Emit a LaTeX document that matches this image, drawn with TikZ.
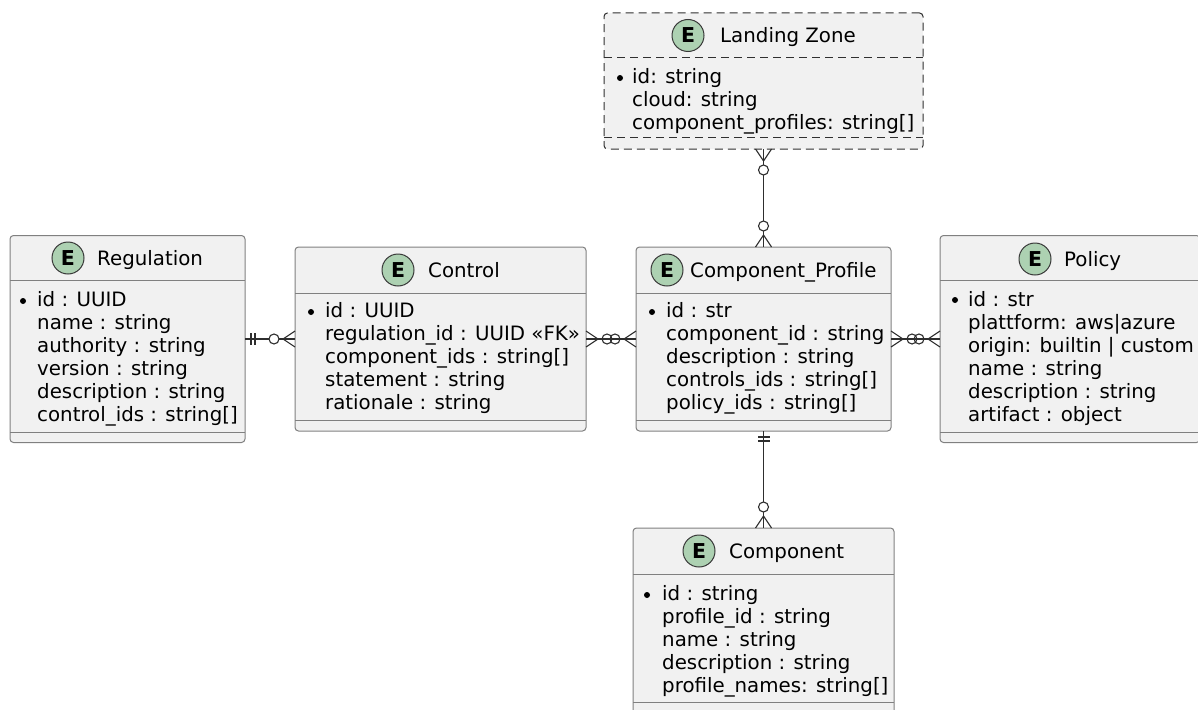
\documentclass[tikz,border=0pt]{standalone}
\usepackage{fontspec}
\setmainfont{DejaVu Sans}
\usetikzlibrary{calc}

\definecolor{boxfill}{HTML}{F1F1F1}
\definecolor{boxline}{HTML}{808080}
\definecolor{dashline}{HTML}{303030}
\definecolor{wirecol}{HTML}{2E2E2E}
\definecolor{markfill}{HTML}{ADD1B2}
\definecolor{markline}{HTML}{383838}

\tikzset{
  entity/.style={rectangle, draw=boxline, fill=boxfill, line width=1pt,
    rounded corners=3.5pt, inner sep=0pt, outer sep=0pt},
  dashedentity/.style={entity, draw=dashline, dash pattern=on 8pt off 5pt},
  divider/.style={draw=boxline, line width=1pt},
  dasheddivider/.style={draw=dashline, line width=1pt, dash pattern=on 8pt off 5pt},
  ecircle/.style={circle, draw=markline, fill=markfill, line width=1pt,
    minimum size=32pt, inner sep=0pt,
    font=\bfseries\fontsize{20.5}{20.5}\selectfont},
  headtext/.style={anchor=base west, inner sep=0pt,
    font=\fontsize{19.8}{23}\selectfont},
  fieldtext/.style={anchor=base west, inner sep=0pt,
    font=\fontsize{19.8}{23}\selectfont},
  wire/.style={draw=wirecol, line width=1.1pt},
  crow/.pic={\draw[wire] (0,-8) -- (12,0) -- (0,8);},
  ringfill/.pic={\draw[wire, fill=white] (21,0) circle (5pt);},
  ringopen/.pic={\draw[wire] (21,0) circle (5pt);},
  bars/.pic={\draw[wire] (6,-6) -- (6,6); \draw[wire] (10,-6) -- (10,6);},
}

\begin{document}
\begin{tikzpicture}[x=1pt, y=-1pt]
\useasboundingbox (0,0) rectangle (1198,709);
\clip (0,0) rectangle (1198,709);

% ---------- entity boxes ----------
\node[entity, minimum width=235pt, minimum height=207pt] (reg) at (127.5,339) {};
\node[entity, minimum width=291pt, minimum height=184pt] (ctl) at (440.5,339) {};
\node[entity, minimum width=255pt, minimum height=184pt] (cp) at (763.5,339) {};
\node[entity, minimum width=260pt, minimum height=207pt] (pol) at (1070,339) {};
\node[dashedentity, minimum width=319pt, minimum height=136pt] (lz) at (763.5,81) {};
\node[entity, minimum width=261pt, minimum height=186pt] (comp) at (763.5,621) {};

% header and footer dividers
\draw[divider] (reg.west |- 0,280) -- (reg.east |- 0,280);
\draw[divider] (reg.west |- 0,432) -- (reg.east |- 0,432);
\draw[divider] (ctl.west |- 0,293) -- (ctl.east |- 0,293);
\draw[divider] (ctl.west |- 0,420) -- (ctl.east |- 0,420);
\draw[divider] (cp.west |- 0,293) -- (cp.east |- 0,293);
\draw[divider] (cp.west |- 0,420) -- (cp.east |- 0,420);
\draw[divider] (pol.west |- 0,280) -- (pol.east |- 0,280);
\draw[divider] (pol.west |- 0,432) -- (pol.east |- 0,432);
\draw[dasheddivider] (lz.west |- 0,58) -- (lz.east |- 0,58);
\draw[dasheddivider] (lz.west |- 0,137) -- (lz.east |- 0,137);
\draw[divider] (comp.west |- 0,574) -- (comp.east |- 0,574);
\draw[divider] (comp.west |- 0,702) -- (comp.east |- 0,702);

% ---------- Regulation ----------
\node[ecircle] (reg-e) at (68,258) {E};
\node[headtext] (reg-t) at (97,265) {Regulation};
\fill (23,301) circle (3pt);
\foreach \f [count=\i from 0] in {{id : UUID},{name : string},{authority : string},
    {version : string},{description : string},{control\_ids : string[]}}
  \node[fieldtext] (reg-f\i) at (37,306+23*\i) {\f};

% ---------- Control ----------
\node[ecircle] (ctl-e) at (398,270) {E};
\node[headtext] (ctl-t) at (428,277) {Control};
\fill (311,312) circle (3pt);
\foreach \f [count=\i from 0] in {{id : UUID},{regulation\_id : UUID «FK»},
    {component\_ids : string[]},{statement : string},{rationale : string}}
  \node[fieldtext] (ctl-f\i) at (325,317+23*\i) {\f};

% ---------- Component_Profile ----------
\node[ecircle] (cp-e) at (667,270) {E};
\node[headtext] (cp-t) at (690,277) {Component\_Profile};
\fill (652,312) circle (3pt);
\foreach \f [count=\i from 0] in {{id : str},{component\_id : string},
    {description : string},{controls\_ids : string[]},{policy\_ids : string[]}}
  \node[fieldtext] (cp-f\i) at (666,317+23*\i) {\f};

% ---------- Policy ----------
\node[ecircle] (pol-e) at (1035,259) {E};
\node[headtext] (pol-t) at (1064,266) {Policy};
\fill (955,300) circle (3pt);
\foreach \f [count=\i from 0] in {{id : str},{plattform: aws|azure},
    {origin: builtin | custom},{name : string},{description : string},
    {artifact : object}}
  \node[fieldtext] (pol-f\i) at (968,306+23*\i) {\f};

% ---------- Landing Zone ----------
\node[ecircle] (lz-e) at (688,35.5) {E};
\node[headtext] (lz-t) at (720,42.5) {Landing Zone};
\fill (620,78) circle (3pt);
\foreach \f [count=\i from 0] in {{id: string},{cloud: string},
    {component\_profiles: string[]}}
  \node[fieldtext] (lz-f\i) at (632,83+23*\i) {\f};

% ---------- Component ----------
\node[ecircle] (comp-e) at (699,551) {E};
\node[headtext] (comp-t) at (729,558) {Component};
\fill (647,595) circle (3pt);
\foreach \f [count=\i from 0] in {{id : string},{profile\_id : string},
    {name : string},{description : string},{profile\_names: string[]}}
  \node[fieldtext] (comp-f\i) at (662,600+23*\i) {\f};

% ---------- relationships ----------
% Regulation ||--o{ Control
\draw[wire] (reg.east) -- (ctl.west);
\pic at (reg.east) {bars};
\pic[rotate=180] at (ctl.west) {ringfill};
\pic[rotate=180] at (ctl.west) {crow};

% Control }o--o{ Component_Profile
\draw[wire] (ctl.east) -- (cp.west);
\pic at (ctl.east) {crow};
\pic at (ctl.east) {ringopen};
\pic[rotate=180] at (cp.west) {crow};
\pic[rotate=180] at (cp.west) {ringopen};

% Component_Profile }o--o{ Policy
\draw[wire] (cp.east) -- (pol.west);
\pic at (cp.east) {crow};
\pic at (cp.east) {ringopen};
\pic[rotate=180] at (pol.west) {crow};
\pic[rotate=180] at (pol.west) {ringopen};

% Landing Zone }o--o{ Component_Profile
\draw[wire] (lz.south) -- (cp.north);
\pic[rotate=-90] at (lz.south) {crow};
\pic[rotate=-90] at (lz.south) {ringfill};
\pic[rotate=90] at (cp.north) {crow};
\pic[rotate=90] at (cp.north) {ringfill};

% Component_Profile ||--o{ Component
\draw[wire] (cp.south) -- (comp.north);
\pic[rotate=-90] at (cp.south) {bars};
\pic[rotate=90] at (comp.north) {ringfill};
\pic[rotate=90] at (comp.north) {crow};
\end{tikzpicture}
\end{document}
